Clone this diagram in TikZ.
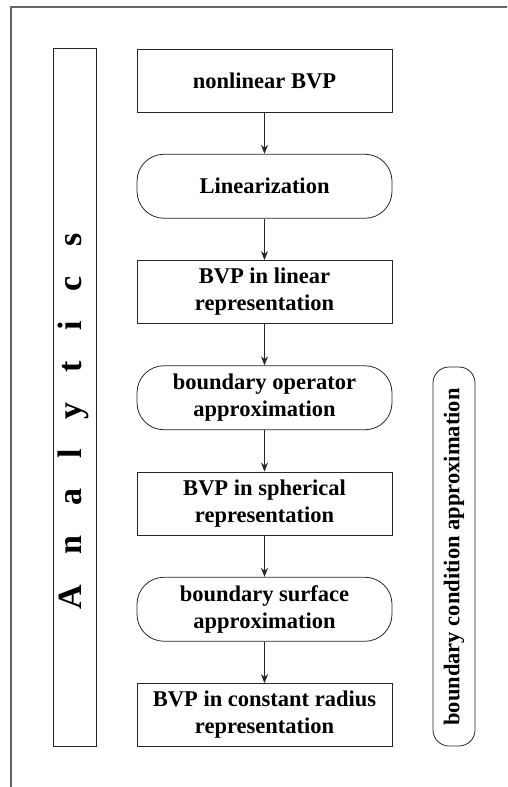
\documentclass[tikz,border=0pt]{standalone}
\usepackage{fontspec}
\setmainfont{Liberation Serif}
\usetikzlibrary{arrows.meta}
\begin{document}
\begin{tikzpicture}[x=1pt,y=-1pt,
  base/.style={draw=black!85,line width=0.8pt,inner sep=0pt,align=center,
    font=\fontsize{22.5}{27}\selectfont\bfseries},
  stepbox/.style={base,minimum width=255pt,minimum height=63pt},
  procbox/.style={base,minimum width=255pt,minimum height=64pt,rounded corners=27pt},
  flow/.style={draw=black!85,line width=0.7pt,-{Stealth[length=9pt,width=7pt]}},
  frameline/.style={draw=black!60,line width=1.3pt}]
\useasboundingbox (0,0) rectangle (507,787);
% outer frame
\coordinate (fa) at (507,7);
\coordinate (fb) at (11,7);
\coordinate (fc) at (11,787);
\draw[frameline] (fa) -- (fb) -- (fc);
% side boxes
\node[base,minimum width=43pt,minimum height=698pt] (an) at (74.5,397) {};
\node[font=\fontsize{34}{40}\selectfont\bfseries,rotate=90,inner sep=0pt] (antext) at (73,421)
  {A\hspace{30pt}n\hspace{30pt}a\hspace{30pt}l\hspace{30pt}y\hspace{30pt}t\hspace{30pt}i\hspace{30pt}c\hspace{30pt}s};
\node[base,minimum width=42pt,minimum height=379pt,rounded corners=16pt] (bc) at (454,556.5) {};
\node[base,draw=none,rotate=90] (bctext) at (454,557) {boundary condition approximation};
% main column
\node[stepbox] (n1) at (264.5,80.5) {nonlinear BVP};
\node[procbox] (n2) at (264.5,186.25) {Linearization};
\node[stepbox] (n3) at (264.5,292) {BVP in linear\\representation};
\node[procbox] (n4) at (264.5,397.75) {boundary operator\\approximation};
\node[stepbox] (n5) at (264.5,503.5) {BVP in spherical\\representation};
\node[procbox] (n6) at (264.5,609.25) {boundary surface\\approximation};
\node[stepbox] (n7) at (264.5,715) {BVP in constant radius\\representation};
\foreach \a/\b in {n1/n2,n2/n3,n3/n4,n4/n5,n5/n6,n6/n7}
  \draw[flow] (\a) -- (\b);
\end{tikzpicture}
\end{document}
